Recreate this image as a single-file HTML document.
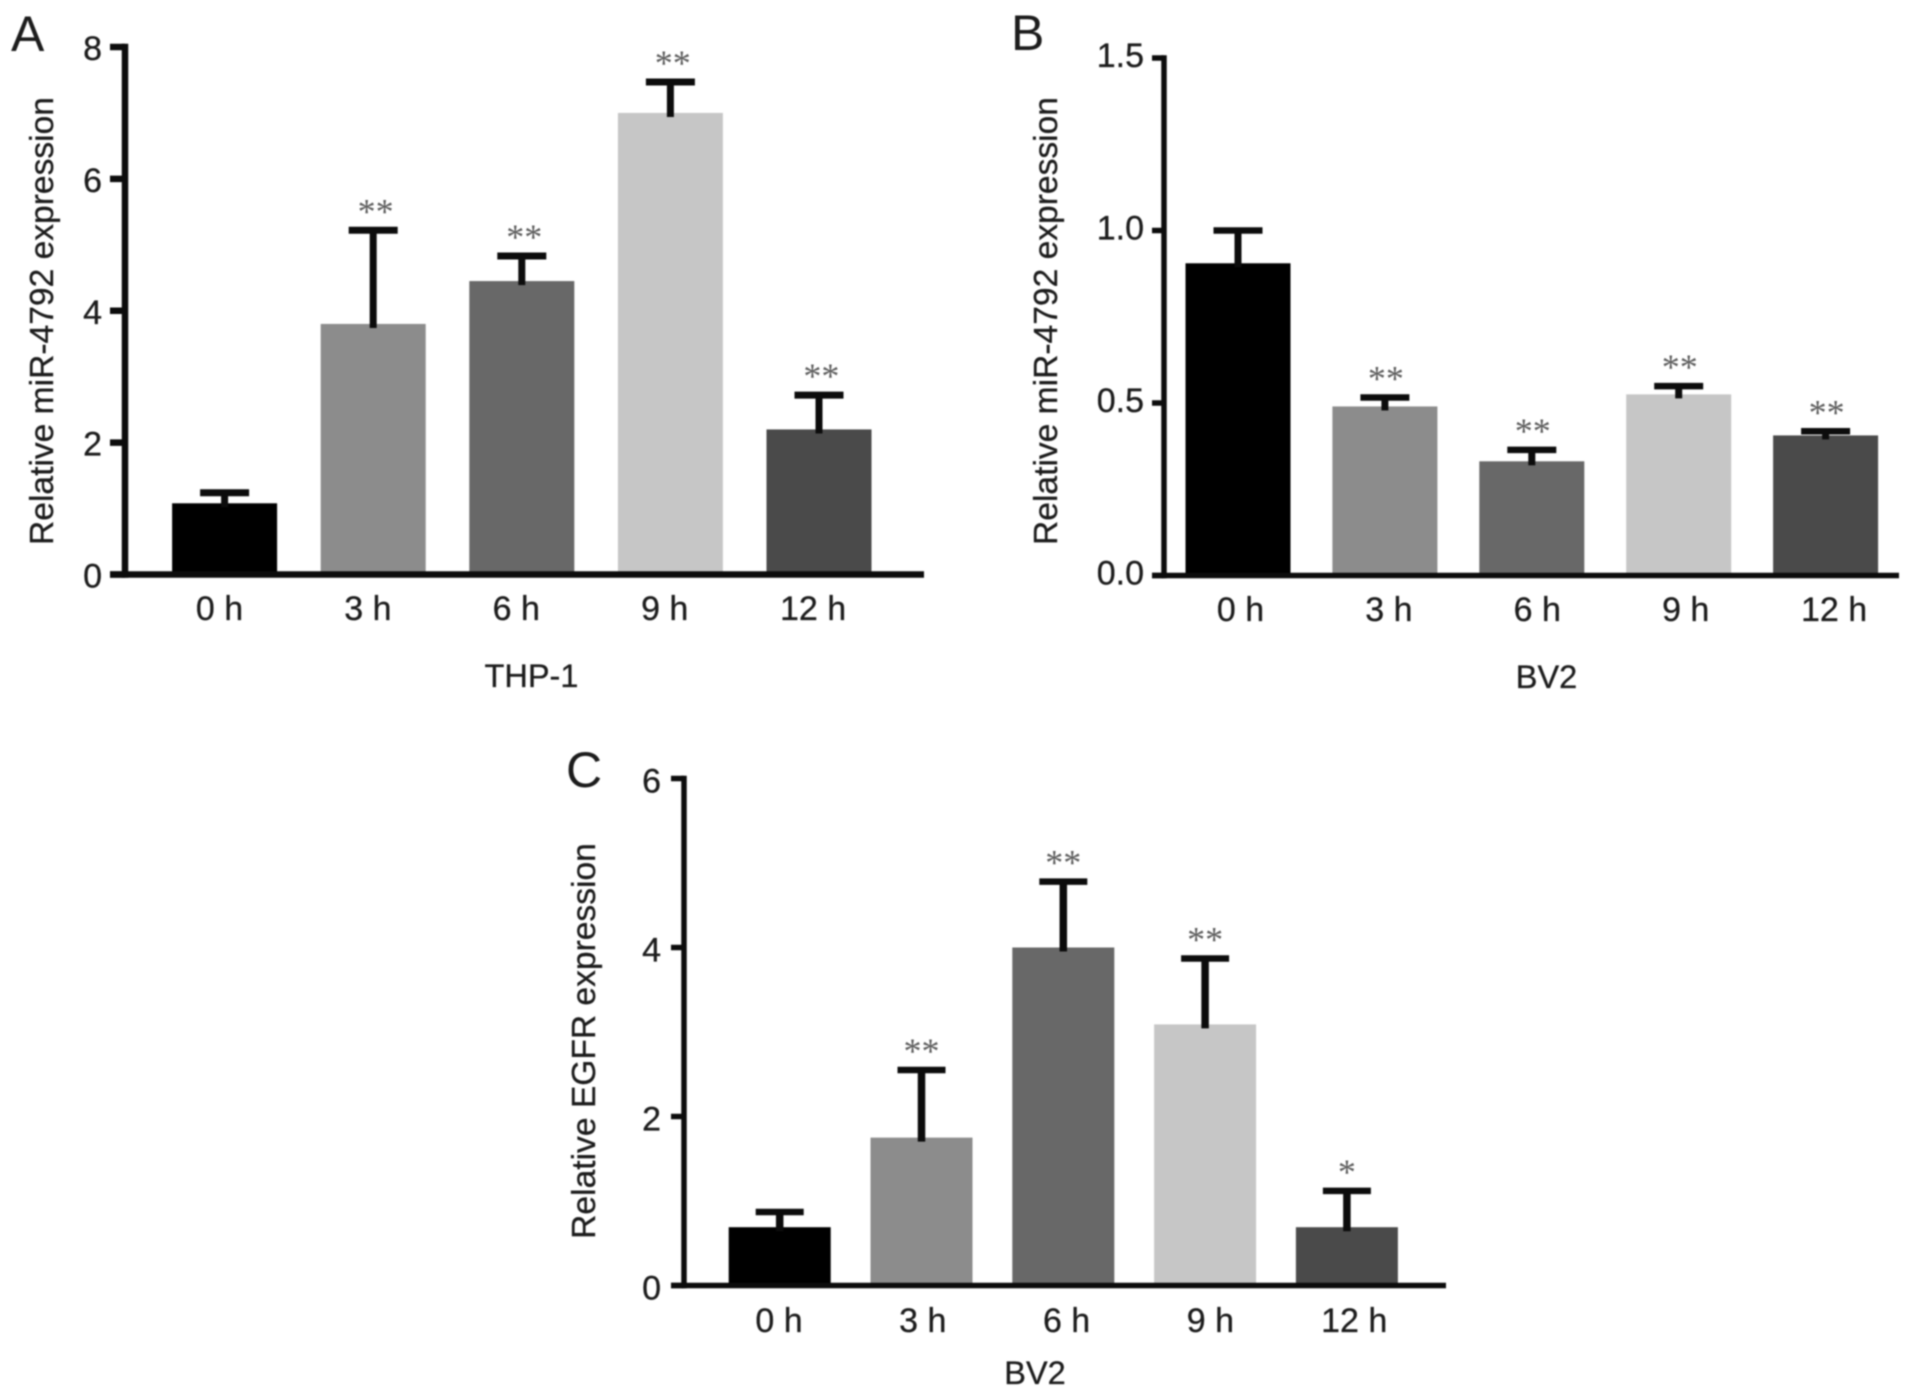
<!DOCTYPE html>
<html lang="en">
<head>
<meta charset="utf-8">
<title>Relative expression bar charts</title>
<style>
html,body{margin:0;padding:0;background:#fff;}
#figure{display:block;width:1913px;height:1397px;filter:blur(0.8px);}
text{font-family:"Liberation Sans",sans-serif;fill:#1c1c1c;stroke:#1c1c1c;stroke-width:0.3px;}
</style>
</head>
<body>
<svg id="figure" xmlns="http://www.w3.org/2000/svg" width="1913" height="1397" viewBox="0 0 1913 1397"></svg>
<script>
// Data: categories and tick labels
const categories = ['0 h', '3 h', '6 h', '9 h', '12 h'];
const barColors = ['#000000', '#8c8c8c', '#686868', '#c6c6c6', '#4a4a4a'];

// Panel A (THP-1)
const aTicks = [0, 2, 4, 6, 8];
const aTickLabels = ['0', '2', '4', '6', '8'];
const aValues = [1.08, 3.8, 4.45, 7.0, 2.2];
const aUpperError = [0.16, 1.42, 0.38, 0.47, 0.52];
const aStars = ['', '**', '**', '**', '**'];

// Panel B (BV2, miR-4792)
const bTicks = [0, 0.5, 1.0, 1.5];
const bTickLabels = ['0.0', '0.5', '1.0', '1.5'];
const bValues = [0.905, 0.49, 0.331, 0.525, 0.406];
const bUpperError = [0.095, 0.026, 0.033, 0.024, 0.012];
const bStars = ['', '**', '**', '**', '**'];

// Panel C (BV2, EGFR)
const cTicks = [0, 2, 4, 6];
const cTickLabels = ['0', '2', '4', '6'];
const cValues = [0.69, 1.75, 4.0, 3.09, 0.69];
const cUpperError = [0.18, 0.8, 0.78, 0.78, 0.43];
const cStars = ['', '**', '**', '**', '*'];

const svg = document.getElementById('figure');
const NS = 'http://www.w3.org/2000/svg';

function make(tag, attrs, text) {
  const el = document.createElementNS(NS, tag);
  for (const k in attrs) el.setAttribute(k, attrs[k]);
  if (text !== undefined) el.textContent = text;
  return el;
}

function drawPanel(p) {
  const g = make('g', {});
  
  
  svg.appendChild(g);

  const yScale = v => p.baseY - (v - p.ticks[0]) / (p.ticks[p.ticks.length - 1] - p.ticks[0]) * (p.baseY - p.topY);
  const barCenter = i => p.barStart + i * p.barStep;
  const labelCenter = i => p.labelStart + i * p.labelStep;

  // panel letter
  const letter = make('text', {x: p.letterX, y: p.letterY, 'font-size': 50, style: 'stroke:none'}, p.id);
  
  
  g.appendChild(letter);

  // bars
  p.values.forEach((v, i) => {
    const top = yScale(v);
    const bar = make('rect', {x: barCenter(i) - p.barWidth / 2, y: top, width: p.barWidth, height: p.baseY - top, fill: barColors[i]});
    
    
    g.appendChild(bar);
  });

  // error bars and significance stars
  p.values.forEach((v, i) => {
    const top = yScale(v);
    const capY = yScale(v + p.errors[i]);
    const cx = barCenter(i);
    const stem = make('line', {x1: cx, x2: cx, y1: capY, y2: top + 4, stroke: '#0c0c0c', 'stroke-width': p.stemWidth});
    
    
    g.appendChild(stem);

    const cap = make('line', {x1: cx - p.capWidth / 2, x2: cx + p.capWidth / 2, y1: capY, y2: capY, stroke: '#0c0c0c', 'stroke-width': p.capThick});
    
    
    g.appendChild(cap);

    if (p.stars[i]) {
      const star = make('text', {x: cx + p.starDx, y: capY - 7, 'text-anchor': 'middle', 'font-size': 36, style: 'font-family:"Liberation Serif",serif;fill:#5c5c5c;stroke:none'}, p.stars[i]);
      
      
      g.appendChild(star);
    }
  });

  // y axis
  const yAxis = make('line', {x1: p.axisX, x2: p.axisX, y1: p.topY - p.axisW / 2, y2: p.baseY + p.axisW / 2, stroke: '#0c0c0c', 'stroke-width': p.axisW});
  
  
  g.appendChild(yAxis);

  // x axis
  const xAxis = make('line', {x1: p.axisX - p.tickLen, x2: p.axisEnd, y1: p.baseY, y2: p.baseY, stroke: '#0c0c0c', 'stroke-width': p.axisW});
  
  
  g.appendChild(xAxis);

  // y ticks
  p.ticks.forEach((t, i) => {
    const y = yScale(t);
    const tick = make('line', {x1: p.axisX - p.tickLen, x2: p.axisX, y1: y, y2: y, stroke: '#0c0c0c', 'stroke-width': p.axisW});
    
    
    g.appendChild(tick);

    const lab = make('text', {x: p.tickLabelX, y: y + p.tickLabelDy, 'text-anchor': 'end', 'font-size': 34}, p.tickLabels[i]);
    
    
    g.appendChild(lab);
  });

  // category labels
  categories.forEach((c, i) => {
    const lab = make('text', {x: labelCenter(i), y: p.labelY, 'text-anchor': 'middle', 'font-size': 34}, c);
    
    
    g.appendChild(lab);
  });

  // x title
  const xTitle = make('text', {x: p.xTitleX, y: p.xTitleY, 'text-anchor': 'middle', 'font-size': 32.5}, p.xTitle);
  
  
  g.appendChild(xTitle);

  // y title
  const yTitle = make('text', {transform: 'translate(' + p.yTitleX + ',' + p.yTitleY + ') rotate(-90)', 'text-anchor': 'middle', 'font-size': 33.6}, p.yTitle);
  
  
  g.appendChild(yTitle);
}

drawPanel({
  id: 'A', ticks: aTicks, tickLabels: aTickLabels, values: aValues, errors: aUpperError, stars: aStars,
  baseY: 574.5, topY: 47, axisX: 125, axisEnd: 924, axisW: 6.5, tickLen: 15,
  barStart: 224.6, barStep: 148.6, barWidth: 105, capWidth: 49, capThick: 7, stemWidth: 7,
  starDx: 2.4,
  labelStart: 219.5, labelStep: 148.4, labelY: 620,
  tickLabelX: 102, tickLabelDy: 13,
  letterX: 11, letterY: 51,
  xTitle: 'THP-1', xTitleX: 531.5, xTitleY: 687,
  yTitle: 'Relative miR-4792 expression', yTitleX: 53, yTitleY: 321
});

drawPanel({
  id: 'B', ticks: bTicks, tickLabels: bTickLabels, values: bValues, errors: bUpperError, stars: bStars,
  baseY: 575.5, topY: 58, axisX: 1164, axisEnd: 1899, axisW: 5.5, tickLen: 12,
  barStart: 1238, barStep: 146.9, barWidth: 105, capWidth: 49, capThick: 6.5, stemWidth: 7,
  starDx: 1,
  labelStart: 1240.5, labelStep: 148.4, labelY: 621,
  tickLabelX: 1144, tickLabelDy: 9,
  letterX: 1011, letterY: 50,
  xTitle: 'BV2', xTitleX: 1546.5, xTitleY: 688,
  yTitle: 'Relative miR-4792 expression', yTitleX: 1057, yTitleY: 321
});

drawPanel({
  id: 'C', ticks: cTicks, tickLabels: cTickLabels, values: cValues, errors: cUpperError, stars: cStars,
  baseY: 1285.5, topY: 778.5, axisX: 684, axisEnd: 1446, axisW: 5.5, tickLen: 13,
  barStart: 779.7, barStep: 141.8, barWidth: 102, capWidth: 48, capThick: 6.5, stemWidth: 7.5,
  starDx: 0,
  labelStart: 779, labelStep: 143.8, labelY: 1332,
  tickLabelX: 661, tickLabelDy: 14,
  letterX: 566, letterY: 787,
  xTitle: 'BV2', xTitleX: 1035, xTitleY: 1384,
  yTitle: 'Relative EGFR expression', yTitleX: 595, yTitleY: 1041
});
</script>
</body>
</html>
